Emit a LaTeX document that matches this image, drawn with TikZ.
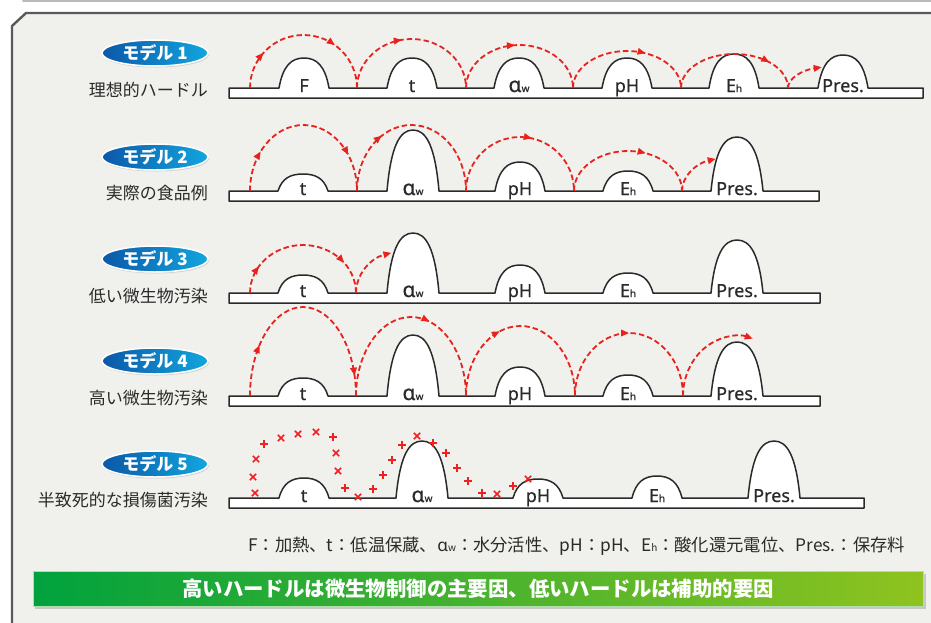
\documentclass[tikz,border=0pt]{standalone}
\usepackage{fontspec}
\setmainfont{Noto Sans CJK JP}
\newfontfamily\lat{Noto Sans}
\newfontfamily\latb{Noto Sans}[FakeBold=0.5]
\usetikzlibrary{arrows.meta,decorations.markings,shadows,shapes.geometric}
\definecolor{panelbg}{HTML}{F0F0EC}
\definecolor{hopred}{HTML}{E8231E}
\definecolor{xred}{HTML}{F02020}
\definecolor{ink}{HTML}{2A2A2A}
\definecolor{badgeL}{HTML}{0B58A8}
\definecolor{badgeR}{HTML}{12A6DE}
\definecolor{barL}{HTML}{00A23E}
\definecolor{barM}{HTML}{3BAD38}
\definecolor{barR}{HTML}{8FC31F}
\newcommand\hsub[1]{{\fontsize{10}{10}\selectfont #1}}
\newcommand\alw{{\fontsize{21}{21}\selectfont α}\hsub{w}}
\tikzset{
  hop/.style={draw=hopred, dash pattern=on 5.5pt off 3pt, line width=1.8pt},
  mk/.style={postaction={decorate,decoration={markings,mark=at position #1 with {\arrow{Triangle[length=8pt,width=6.5pt]}}}}},
  endtip/.style={-{Triangle[length=8pt,width=6.5pt]}},
  strip/.style={fill=white, draw=ink, line width=1.5pt, line join=round},
  hlab/.style={anchor=base, inner sep=0pt, text=ink, font=\latb\fontsize{18}{18}\selectfont},
  rowlab/.style={anchor=east, inner sep=0pt, text=ink, font=\fontsize{17}{17}\selectfont},
  badge/.style={ellipse, minimum width=106pt, minimum height=26pt, inner sep=0pt,
    left color=badgeL, right color=badgeR, draw=white, line width=1.5pt,
    drop shadow={shadow xshift=1pt, shadow yshift=-1.5pt, fill=black!30},
    text=white, font=\bfseries\fontsize{17}{17}\selectfont},
  xmark/.style={draw=xred, line width=1.5pt},
}
\newcommand\hurdlestrip[4]{%
  \draw[strip] (#2,#1+10) -- (#2,#1)
  \foreach \c/\h/\hw in {#4} { -- (\c-\hw,#1) .. controls (\c-\hw+4,#1-0.75*\h) and (\c-0.5*\hw,#1-\h) .. (\c,#1-\h)
     .. controls (\c+0.5*\hw,#1-\h) and (\c+\hw-4,#1-0.75*\h) .. (\c+\hw,#1) }
  -- (#3,#1) -- (#3,#1+10) -- cycle;}
\newcommand\crX[2]{\draw[xmark] (#1-3.2,#2-3.2) -- (#1+3.2,#2+3.2) (#1-3.2,#2+3.2) -- (#1+3.2,#2-3.2);}
\newcommand\crP[2]{\draw[xmark] (#1-4,#2) -- (#1+4,#2) (#1,#2-4) -- (#1,#2+4);}
\begin{document}
\begin{tikzpicture}[x=1pt,y=-1pt]
\useasboundingbox (0,0) rectangle (931,622);
\fill[white] (0,0) rectangle (931,622);
\draw[gray!55, line width=2pt, line cap=round] (23,1) -- (940,1);
\draw[draw=gray!70!black, line width=2.4pt, fill=panelbg] (12,640) -- (12,26) -- (26,13) -- (945,13) -- (945,640) -- cycle;

% ---------- badges and row labels
\node[badge] (b1) at (155,53) {モデル 1};
\node[badge] (b2) at (155,157) {モデル 2};
\node[badge] (b3) at (155,259) {モデル 3};
\node[badge] (b4) at (155,361) {モデル 4};
\node[badge] (b5) at (155,464) {モデル 5};
\node[rowlab] (l1) at (208,90) {理想的ハードル};
\node[rowlab] (l2) at (208,193) {実際の食品例};
\node[rowlab] (l3) at (208,296) {低い微生物汚染};
\node[rowlab] (l4) at (208,398) {高い微生物汚染};
\node[rowlab] (l5) at (208,500) {半致死的な損傷菌汚染};

% ---------- model 1
\hurdlestrip{88}{229}{923}{304/30/25, 412/30/25, 519/30/25, 627/30/25, 734/34/25, 843/33/25}
\foreach \c/\t in {304/F, 412/t, 519/{\alw}, 627/pH, 734/{E\hsub{h}}, 843/Pres.}
  \node[hlab] (m1h\c) at (\c,92) {\t};
\coordinate (p11) at (250,88); \coordinate (p12) at (357,88); \coordinate (p13) at (466,88);
\coordinate (p14) at (573,88); \coordinate (p15) at (681,88); \coordinate (p16) at (788,88);
\draw[hop, mk=0.23, mk=0.70] (p11) arc[start angle=180, end angle=0, x radius=53.5pt, y radius=53pt];
\draw[hop, mk=0.44] (p12) arc[start angle=180, end angle=0, x radius=54.5pt, y radius=49pt];
\draw[hop, mk=0.47] (p13) arc[start angle=180, end angle=0, x radius=53.5pt, y radius=43pt];
\draw[hop, mk=0.63] (p14) arc[start angle=180, end angle=0, x radius=54pt, y radius=37pt];
\draw[hop, mk=0.76] (p15) arc[start angle=180, end angle=0, x radius=53.5pt, y radius=34pt];
\draw[hop, endtip] (p16) arc[start angle=180, end angle=109, x radius=50pt, y radius=22pt];

% ---------- model 2
\hurdlestrip{191}{229}{819}{303/17/25, 413/61/26, 520/29/25, 628/20/25, 737/54/26}
\foreach \c/\t in {303/t, 413/{\alw}, 520/pH, 628/{E\hsub{h}}, 737/Pres.}
  \node[hlab] (m2h\c) at (\c,195) {\t};
\coordinate (p21) at (250,191); \coordinate (p22) at (357,191); \coordinate (p23) at (466,191);
\coordinate (p24) at (574,191); \coordinate (p25) at (682,191);
\draw[hop, mk=0.22, mk=0.80] (p21) arc[start angle=180, end angle=0, x radius=53.5pt, y radius=66pt];
\draw[hop, mk=0.33] (p22) arc[start angle=180, end angle=0, x radius=54.5pt, y radius=66pt];
\draw[hop, mk=0.57] (p23) arc[start angle=180, end angle=0, x radius=54pt, y radius=54pt];
\draw[hop, mk=0.62] (p24) arc[start angle=180, end angle=0, x radius=54pt, y radius=40pt];
\draw[hop, endtip] (p25) arc[start angle=180, end angle=109, x radius=50pt, y radius=34pt];

% ---------- model 3
\hurdlestrip{293}{229}{820}{303/18/25, 413/60/26, 520/28/25, 628/20/25, 737/53/26}
\foreach \c/\t in {303/t, 413/{\alw}, 520/pH, 628/{E\hsub{h}}, 737/Pres.}
  \node[hlab] (m3h\c) at (\c,297) {\t};
\coordinate (p31) at (250,293); \coordinate (p32) at (356,293);
\draw[hop, mk=0.18, mk=0.79] (p31) arc[start angle=180, end angle=0, x radius=53pt, y radius=48pt];
\draw[hop, endtip] (p32) arc[start angle=180, end angle=107, x radius=50pt, y radius=42pt];

% ---------- model 4
\hurdlestrip{396}{229}{820}{303/18/25, 413/61/26, 520/29/25, 628/21/25, 737/54/26}
\foreach \c/\t in {303/t, 413/{\alw}, 520/pH, 628/{E\hsub{h}}, 737/Pres.}
  \node[hlab] (m4h\c) at (\c,400) {\t};
\coordinate (p41) at (250,396); \coordinate (p42) at (356,396); \coordinate (p43) at (466,396);
\coordinate (p44) at (575,396); \coordinate (p45) at (683,396);
\draw[hop, mk=0.23, mk=0.91] (p41) arc[start angle=180, end angle=0, x radius=53pt, y radius=89pt];
\draw[hop, mk=0.59] (p42) arc[start angle=180, end angle=0, x radius=55pt, y radius=79pt];
\draw[hop, mk=0.39] (p43) arc[start angle=180, end angle=0, x radius=54.5pt, y radius=70pt];
\draw[hop, mk=0.50] (p44) arc[start angle=180, end angle=0, x radius=54pt, y radius=63pt];
\draw[hop, endtip] (p45) arc[start angle=180, end angle=73, x radius=54pt, y radius=60pt];

% ---------- model 5
\hurdlestrip{498}{229}{864}{304/20/25, 422/57/26, 538/19/25, 657/22/25, 774/57/26}
\foreach \c/\t in {304/t, 422/{\alw}, 538/pH, 657/{E\hsub{h}}, 774/Pres.}
  \node[hlab] (m5h\c) at (\c,502) {\t};
\crX{255}{493} \crX{253}{477} \crX{256}{459} \crP{264}{444} \crX{281}{438}
\crX{298}{434} \crX{316}{432} \crP{333}{437} \crX{336}{453} \crX{338}{471}
\crP{345}{488} \crX{358}{497} \crP{373}{489} \crP{383}{475} \crP{392}{460}
\crP{402}{445} \crX{417}{436} \crP{433}{443} \crP{446}{453} \crP{457}{468}
\crP{468}{481} \crP{482}{493} \crX{497}{494} \crP{513}{486} \crX{528}{479}

% ---------- legend
\node[anchor=west, inner sep=0pt, text=ink, font=\fontsize{17.3}{17.3}\selectfont] (leg) at (248,546)
  {F：加熱、t：低温保蔵、{\lat α}\hsub{w}：水分活性、pH：pH、E\hsub{h}：酸化還元電位、Pres.：保存料};

% ---------- bottom bar
\fill[black!22] (35,574) rectangle (926,609);
\node[minimum width=890pt, minimum height=35pt, inner sep=0pt, left color=barL, middle color=barM, right color=barR,
  draw=white!60!barM, line width=0.8pt, text=white, font=\bfseries\fontsize{20.4}{20.4}\selectfont] (msg) at (478,588.5)
  {高いハードルは微生物制御の主要因、低いハードルは補助的要因};
\end{tikzpicture}
\end{document}
